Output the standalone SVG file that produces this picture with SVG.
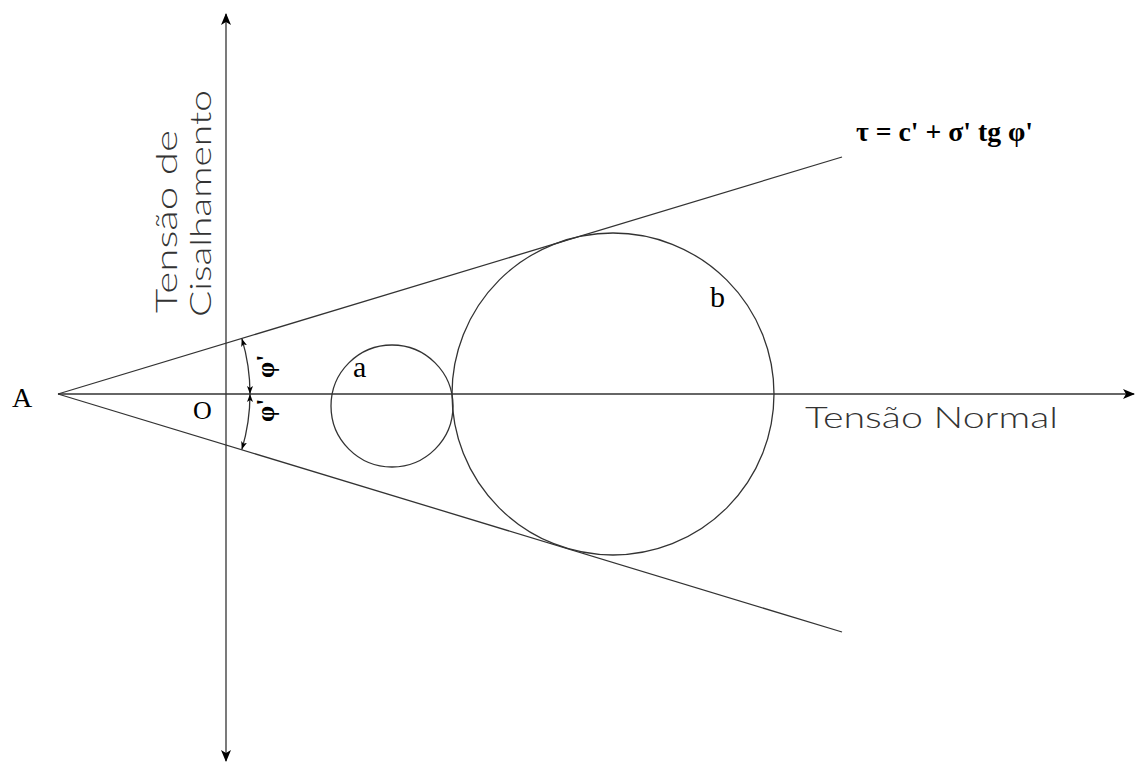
<svg xmlns="http://www.w3.org/2000/svg" width="1135" height="767" viewBox="0 0 1135 767">
<style>
.ln{stroke:#333;stroke-width:1.3;fill:none}
.cad{font-family:Lato,Inter,"Liberation Sans",sans-serif;font-weight:300;fill:#333}
.ser{font-family:"Liberation Serif","Times New Roman",serif;fill:#000}
</style>
<defs>
<marker id="ax" viewBox="0 0 12 10" refX="11" refY="5" markerWidth="12" markerHeight="10" markerUnits="userSpaceOnUse" orient="auto-start-reverse">
<path d="M0 0 L12 5 L0 10 L3 5 Z" fill="#000"/>
</marker>
<marker id="sm" viewBox="0 0 8 6" refX="8" refY="3" markerWidth="8" markerHeight="6" markerUnits="userSpaceOnUse" orient="auto-start-reverse">
<path d="M0 0 L8 3 L0 6 L2 3 Z" fill="#000"/>
</marker>
</defs>
<rect width="1135" height="767" fill="#fff"/>
<g id="connectors">
<line id="axis-h" class="ln" x1="58" y1="394" x2="1134" y2="394" marker-end="url(#ax)"/>
<line id="axis-v" class="ln" x1="226" y1="14" x2="226" y2="761" marker-start="url(#ax)" marker-end="url(#ax)"/>
<line id="env-up" class="ln" x1="58" y1="394" x2="842" y2="157"/>
<line id="env-dn" class="ln" x1="58" y1="394" x2="842" y2="632"/>
<path id="arc-up" class="ln" d="M250 394 A192 192 0 0 0 241.8 338.4" marker-start="url(#sm)" marker-end="url(#sm)"/>
<path id="arc-dn" class="ln" d="M250 394 A192 192 0 0 1 241.8 449.6" marker-start="url(#sm)" marker-end="url(#sm)"/>
</g>
<g id="circle-a">
<circle class="ln" cx="392" cy="406" r="61"/>
<text class="ser" x="353" y="377" font-size="30">a</text>
</g>
<g id="circle-b">
<circle class="ln" cx="613" cy="394" r="161"/>
<text class="ser" x="710" y="307" font-size="30">b</text>
</g>
<g id="point-A">
<text class="ser" x="12" y="407" font-size="28">A</text>
</g>
<g id="point-O">
<text class="ser" x="193" y="419" font-size="26">O</text>
</g>
<g id="angle-up">
<text class="ser" font-size="26" font-weight="bold" transform="translate(274 378) rotate(-90)">φ'</text>
</g>
<g id="angle-dn">
<text class="ser" font-size="26" font-weight="bold" transform="translate(274 422) rotate(-90)">φ'</text>
</g>
<g id="formula">
<text class="ser" x="856" y="141" font-size="27" font-weight="bold" textLength="177" lengthAdjust="spacingAndGlyphs">τ = c' + σ' tg φ'</text>
</g>
<g id="label-shear">
<text class="cad" font-size="29" textLength="183" lengthAdjust="spacingAndGlyphs" transform="translate(177 313) rotate(-90)">Tensão de</text>
<text class="cad" font-size="29" textLength="227" lengthAdjust="spacingAndGlyphs" transform="translate(211 317) rotate(-90)">Cisalhamento</text>
</g>
<g id="label-normal">
<text class="cad" x="805" y="428" font-size="29" textLength="253" lengthAdjust="spacingAndGlyphs">Tensão Normal</text>
</g>
</svg>
